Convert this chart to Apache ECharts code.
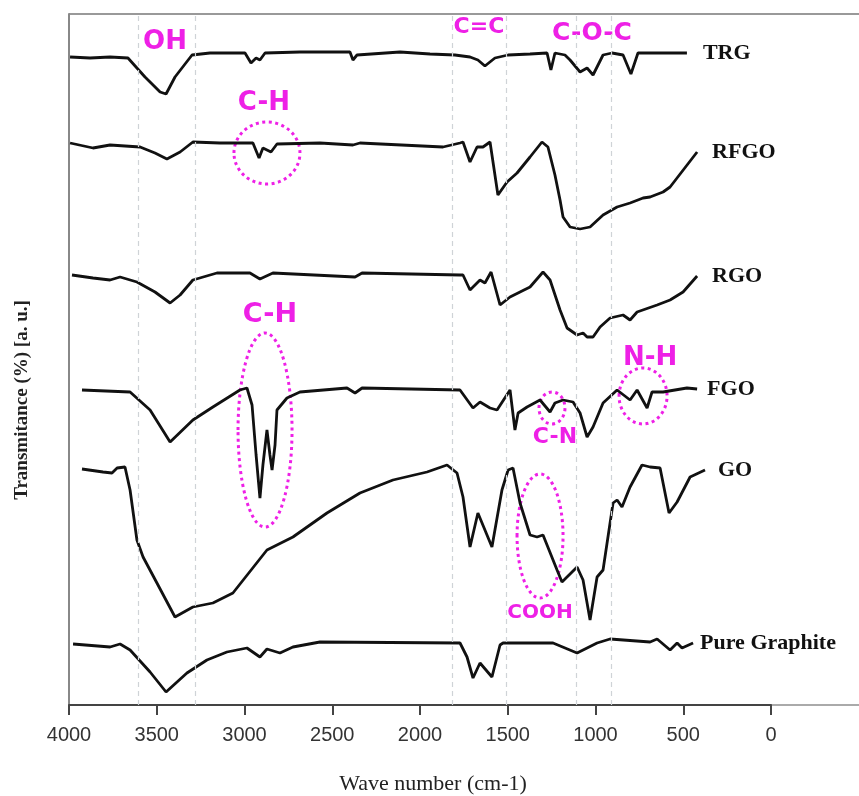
<!DOCTYPE html>
<html>
<head>
<meta charset="utf-8">
<script src="https://cdn.jsdelivr.net/npm/echarts@6/dist/echarts.min.js"></script>
<style>
  html, body { margin: 0; padding: 0; background: #fff; }
  #chart { width: 859px; height: 796px; }
</style>
</head>
<body>
<div id="chart"></div>
<script>
// FTIR spectra, [wave number (cm-1), transmittance (a.u., curves offset)]
const trg = [[3994,648],[3880,647],[3766,648],[3664,647],[3567,628],[3481,613],[3447,611],[3396,628],[3299,650],
  [3197,652],[2997,652],[2963,642],[2934,647],[2912,645],[2883,652],[2684,653],[2399,653],[2382,645],[2359,650],
  [2114,653],[1943,651],[1801,650],[1715,648],[1670,645],[1630,639],[1573,647],[1498,650],[1373,651],[1276,652],
  [1254,635],[1231,652],[1174,650],[1145,645],[1088,633],[1048,637],[1014,630],[957,650],[906,652],[843,650],
  [798,631],[758,652],[632,652],[479,652]];
const rfgo = [[3994,562],[3863,557],[3766,560],[3595,558],[3510,552],[3442,546],[3367,553],[3294,563],[3140,562],
  [2952,562],[2917,547],[2895,557],[2872,555],[2849,553],[2815,561],[2570,562],[2382,560],[2342,562],[1869,558],
  [1772,562],[1755,563],[1715,543],[1675,558],[1641,558],[1601,563],[1556,510],[1504,523],[1447,532],[1373,548],
  [1305,563],[1271,558],[1231,530],[1202,505],[1185,488],[1145,478],[1088,476],[1031,478],[957,490],[877,498],
  [803,502],[729,507],[689,508],[615,513],[575,518],[421,553]];
const rgo = [[3983,430],[3863,427],[3766,425],[3709,428],[3613,423],[3510,413],[3424,402],[3367,410],[3294,425],
  [3157,432],[2969,432],[2912,426],[2838,432],[2370,428],[2330,432],[1772,430],[1755,430],[1715,415],[1658,425],
  [1630,422],[1595,433],[1544,400],[1487,408],[1430,413],[1373,418],[1299,433],[1259,425],[1202,395],[1162,377],
  [1105,370],[1071,372],[1048,368],[1014,368],[974,378],[917,387],[843,390],[803,385],[763,393],[649,400],
  [575,405],[501,413],[421,429]];
const fgo = [[3926,315],[3652,313],[3538,295],[3424,263],[3294,285],[3180,298],[3026,315],[2986,317],[2957,300],
  [2934,250],[2912,207],[2895,240],[2872,275],[2855,250],[2843,235],[2826,260],[2815,295],[2758,307],[2684,313],
  [2416,317],[2370,312],[2330,317],[1772,315],[1698,297],[1658,303],[1601,297],[1561,295],[1487,315],[1459,275],
  [1441,292],[1390,298],[1316,305],[1259,293],[1231,302],[1185,305],[1128,303],[1088,292],[1048,268],[1014,278],
  [957,302],[877,315],[803,305],[763,315],[706,297],[678,313],[615,313],[479,317],[421,316]];
const go = [[3926,236],[3806,233],[3755,232],[3726,237],[3681,238],[3652,215],[3613,165],[3578,148],[3499,122],
  [3396,88],[3294,98],[3180,102],[3066,112],[2872,155],[2724,168],[2530,192],[2342,212],[2154,225],[1960,233],
  [1846,240],[1789,232],[1755,208],[1715,158],[1670,192],[1590,158],[1533,215],[1498,235],[1470,237],[1430,202],
  [1373,170],[1333,168],[1299,170],[1219,135],[1191,123],[1105,138],[1071,125],[1031,85],[991,128],[957,135],
  [900,202],[877,205],[849,198],[803,218],[735,240],[689,238],[632,237],[581,192],[535,203],[461,228],[376,235]];
const pureGraphite = [[3977,61],[3766,58],[3709,61],[3652,55],[3538,33],[3447,13],[3328,32],[3214,45],[3100,53],
  [2986,57],[2912,48],[2872,56],[2798,52],[2724,58],[2570,63],[1772,62],[1732,48],[1698,27],[1658,42],[1590,28],
  [1544,60],[1527,62],[1242,62],[1105,52],[991,62],[917,66],[689,63],[649,66],[575,55],[535,62],[507,57],[444,62]];

const seriesNames = ['TRG', 'RFGO', 'RGO', 'FGO', 'GO', 'Pure Graphite'];
const seriesData = [trg, rfgo, rgo, fgo, go, pureGraphite];
const labelGaps = [16, 15, 15, 10, 13, 7];

// band positions marked by grey guides
const bandLines = [3605, 3282, 1819, 1506, 1107, 908];

// pink group labels and dotted rings, placed in data coords
const notes = [
  { text: 'OH', at: [3453, 663], size: 26 },
  { text: 'C=C', at: [1664, 678], size: 22 },
  { text: 'C-O-C', at: [1020, 672], size: 25 },
  { text: 'C-H', at: [2889, 602], size: 26 },
  { text: 'C-H', at: [2855, 390], size: 27 },
  { text: 'C-N', at: [1231, 268], size: 22 },
  { text: 'N-H', at: [689, 347], size: 26 },
  { text: 'COOH', at: [1316, 92], size: 20 }
];
const rings = [
  { at: [2872, 552], rx: 33, ry: 31 },
  { at: [2883, 275], rx: 27, ry: 97 },
  { at: [1248, 297], rx: 13, ry: 16 },
  { at: [729, 309], rx: 24, ry: 28 },
  { at: [1316, 169], rx: 23, ry: 62 }
];

const pink = '#ee20e6';
const chart = echarts.init(document.getElementById('chart'));

const series = seriesNames.map(function (name, i) {
  const s = {
    name: name,
    type: 'line',
    data: seriesData[i],
    showSymbol: false,
    symbol: 'none',
    animation: false,
    lineStyle: { color: '#111', width: 2.8 },
    endLabel: {
      show: true,
      formatter: name,
      // x axis is inverted, so a negative distance pushes the label to the right
      distance: -labelGaps[i],
      align: 'left',
      color: '#111',
      fontFamily: '"Liberation Serif", serif',
      fontWeight: 'bold',
      fontSize: 22
    }
  };
  if (i === 0) {
    s.markLine = {
      silent: true,
      symbol: 'none',
      label: { show: false },
      lineStyle: { color: '#cfd3d7', type: [5, 4], width: 1.2 },
      data: bandLines.map(function (v) { return { xAxis: v }; })
    };
  }
  return s;
});

chart.setOption({
  animation: false,
  grid: { left: 69, right: 88, top: 14, bottom: 91, outerBoundsMode: 'none' },
  xAxis: {
    type: 'value',
    inverse: true,
    min: 0,
    max: 4000,
    interval: 500,
    axisLine: { lineStyle: { color: '#444', width: 2 } },
    axisTick: { length: 10, lineStyle: { color: '#444', width: 2 } },
    axisLabel: {
      margin: 20, color: '#333', fontSize: 20, fontFamily: '"Liberation Sans", sans-serif',
      formatter: function (v) { return String(v); }
    },
    splitLine: { show: false },
    name: 'Wave number (cm-1)',
    nameLocation: 'middle',
    nameGap: 68,
    nameTextStyle: { color: '#222', fontSize: 22, fontFamily: '"Liberation Serif", serif', padding: [0, 0, 0, 26] }
  },
  yAxis: {
    type: 'value',
    min: 0,
    max: 691,
    position: 'left',
    axisLine: { show: true, onZero: false, lineStyle: { color: '#888', width: 2 } },
    axisTick: { show: false },
    axisLabel: { show: false },
    splitLine: { show: false }
  },
  series: series
});

// frame extensions, annotations
const tl = chart.convertToPixel({ gridIndex: 0 }, [4000, 691]);
const br = chart.convertToPixel({ gridIndex: 0 }, [0, 0]);
const graphics = [
  { type: 'line', silent: true, shape: { x1: tl[0], y1: tl[1], x2: 859, y2: tl[1] },
    style: { stroke: '#999', lineWidth: 2 } },
  { type: 'line', silent: true, shape: { x1: br[0], y1: br[1], x2: 859, y2: br[1] },
    style: { stroke: '#aaa', lineWidth: 2 } },
  { type: 'text', silent: true, x: 22, y: 400, rotation: Math.PI / 2,
    style: { text: 'Transmitance (%) [a. u.]', fill: '#222', font: 'bold 19px "Liberation Serif", serif',
      align: 'center', verticalAlign: 'middle' } }
];
notes.forEach(function (n) {
  const p = chart.convertToPixel({ gridIndex: 0 }, n.at);
  graphics.push({ type: 'text', silent: true, x: p[0], y: p[1],
    style: { text: n.text, fill: pink, font: 'bold ' + n.size + 'px "DejaVu Sans", sans-serif',
      align: 'center', verticalAlign: 'middle' } });
});
rings.forEach(function (r) {
  const p = chart.convertToPixel({ gridIndex: 0 }, r.at);
  graphics.push({ type: 'ellipse', silent: true, shape: { cx: p[0], cy: p[1], rx: r.rx, ry: r.ry },
    style: { fill: 'none', stroke: pink, lineWidth: 3, lineDash: [3, 3.5] } });
});
chart.setOption({ graphic: graphics });
</script>
</body>
</html>
